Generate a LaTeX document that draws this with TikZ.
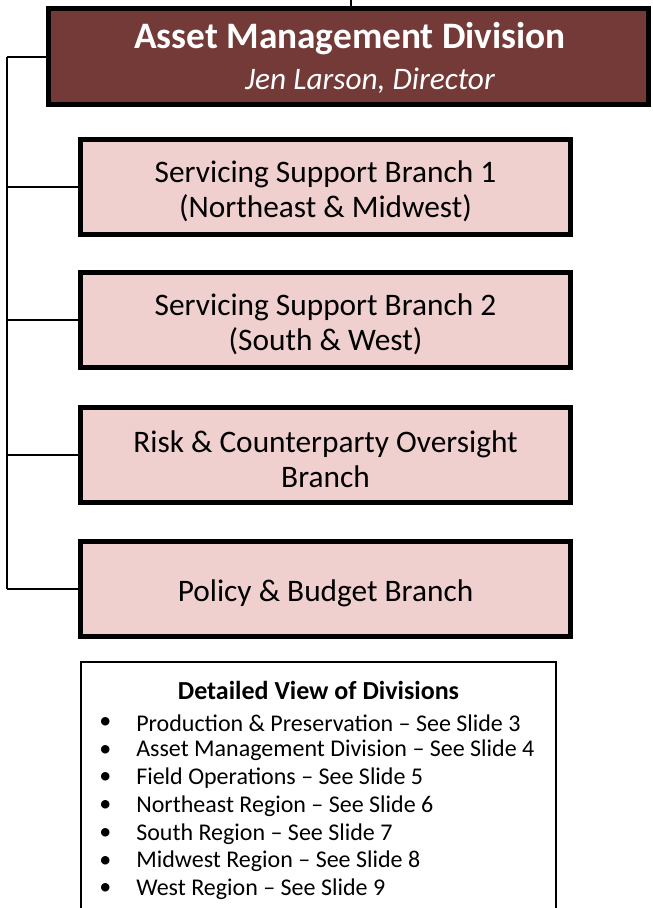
\documentclass[tikz,border=0pt]{standalone}
\usepackage{fontspec}
\setmainfont{Carlito}
\usetikzlibrary{positioning}

\definecolor{divbrown}{HTML}{733A37}
\definecolor{branchpink}{HTML}{F0D0CF}

\begin{document}
\begin{tikzpicture}[x=0.75pt,y=-0.75pt,
    division/.style={fill=divbrown,draw=black,line width=3.75pt,minimum width=450pt,minimum height=72pt},
    branch/.style={fill=branchpink,draw=black,line width=3.75pt,minimum width=367.5pt,minimum height=71.25pt},
    branchtext/.style={align=center,font=\fontsize{23.5}{26.25}\selectfont},
    link/.style={draw,line width=1.5pt},
    item/.style={anchor=west,inner sep=0pt,font=\fontsize{18}{21}\selectfont}]

    \useasboundingbox (0,0) rectangle (653,908);

    % division head
    \node[division] (MAIN) at (348.5,56.5) {};
    \node[white,font=\fontsize{28}{32}\selectfont\bfseries] (TITLE) at (350,39) {Asset Management Division};
    \node[white,font=\fontsize{23.5}{28}\selectfont\itshape] (DIRECTOR) at (370,81) {Jen Larson, Director};
    \coordinate (UP) at (351,0);
    \path[link] (UP) -- (UP |- MAIN.north);

    % branches on the left spine
    \coordinate (SPINE) at (7,57);
    \path[link] (MAIN.west |- SPINE) -- (SPINE);
    \foreach \y/\n/\t in {187/1/{Servicing Support Branch 1\\(Northeast \& Midwest)},
                          320/2/{Servicing Support Branch 2\\(South \& West)},
                          455/3/{Risk \& Counterparty Oversight\\Branch},
                          589/4/{Policy \& Budget Branch}} {
      \node[branch] (BRANCH\n) at (325.5,\y) {};
      \node[branchtext] (LABEL\n) at ([yshift=-3pt]BRANCH\n.center) {\t};
      \path[link] (BRANCH\n.west) -- (SPINE |- BRANCH\n.west);
    }
    \path[link] (SPINE) -- (SPINE |- BRANCH4.west);

    % legend
    \node[draw,line width=1.5pt,minimum width=356pt,minimum height=200pt,anchor=north] (LEGEND) at (318.5,661) {};
    \node[font=\fontsize{19.5}{23}\selectfont\bfseries] (LEGENDTITLE) at (318.5,690) {Detailed View of Divisions};
    \foreach \i/\t in {0/Production \& Preservation,1/Asset Management Division,2/Field Operations,
                       3/Northeast Region,4/South Region,5/Midwest Region,6/West Region} {
      \node[item] (BULLET\i) at (99,723+27.7*\i) {•};
      \node[item] (ITEM\i) at (136,723+27.7*\i) {\t{} – See Slide \the\numexpr\i+3\relax};
    }
\end{tikzpicture}
\end{document}
